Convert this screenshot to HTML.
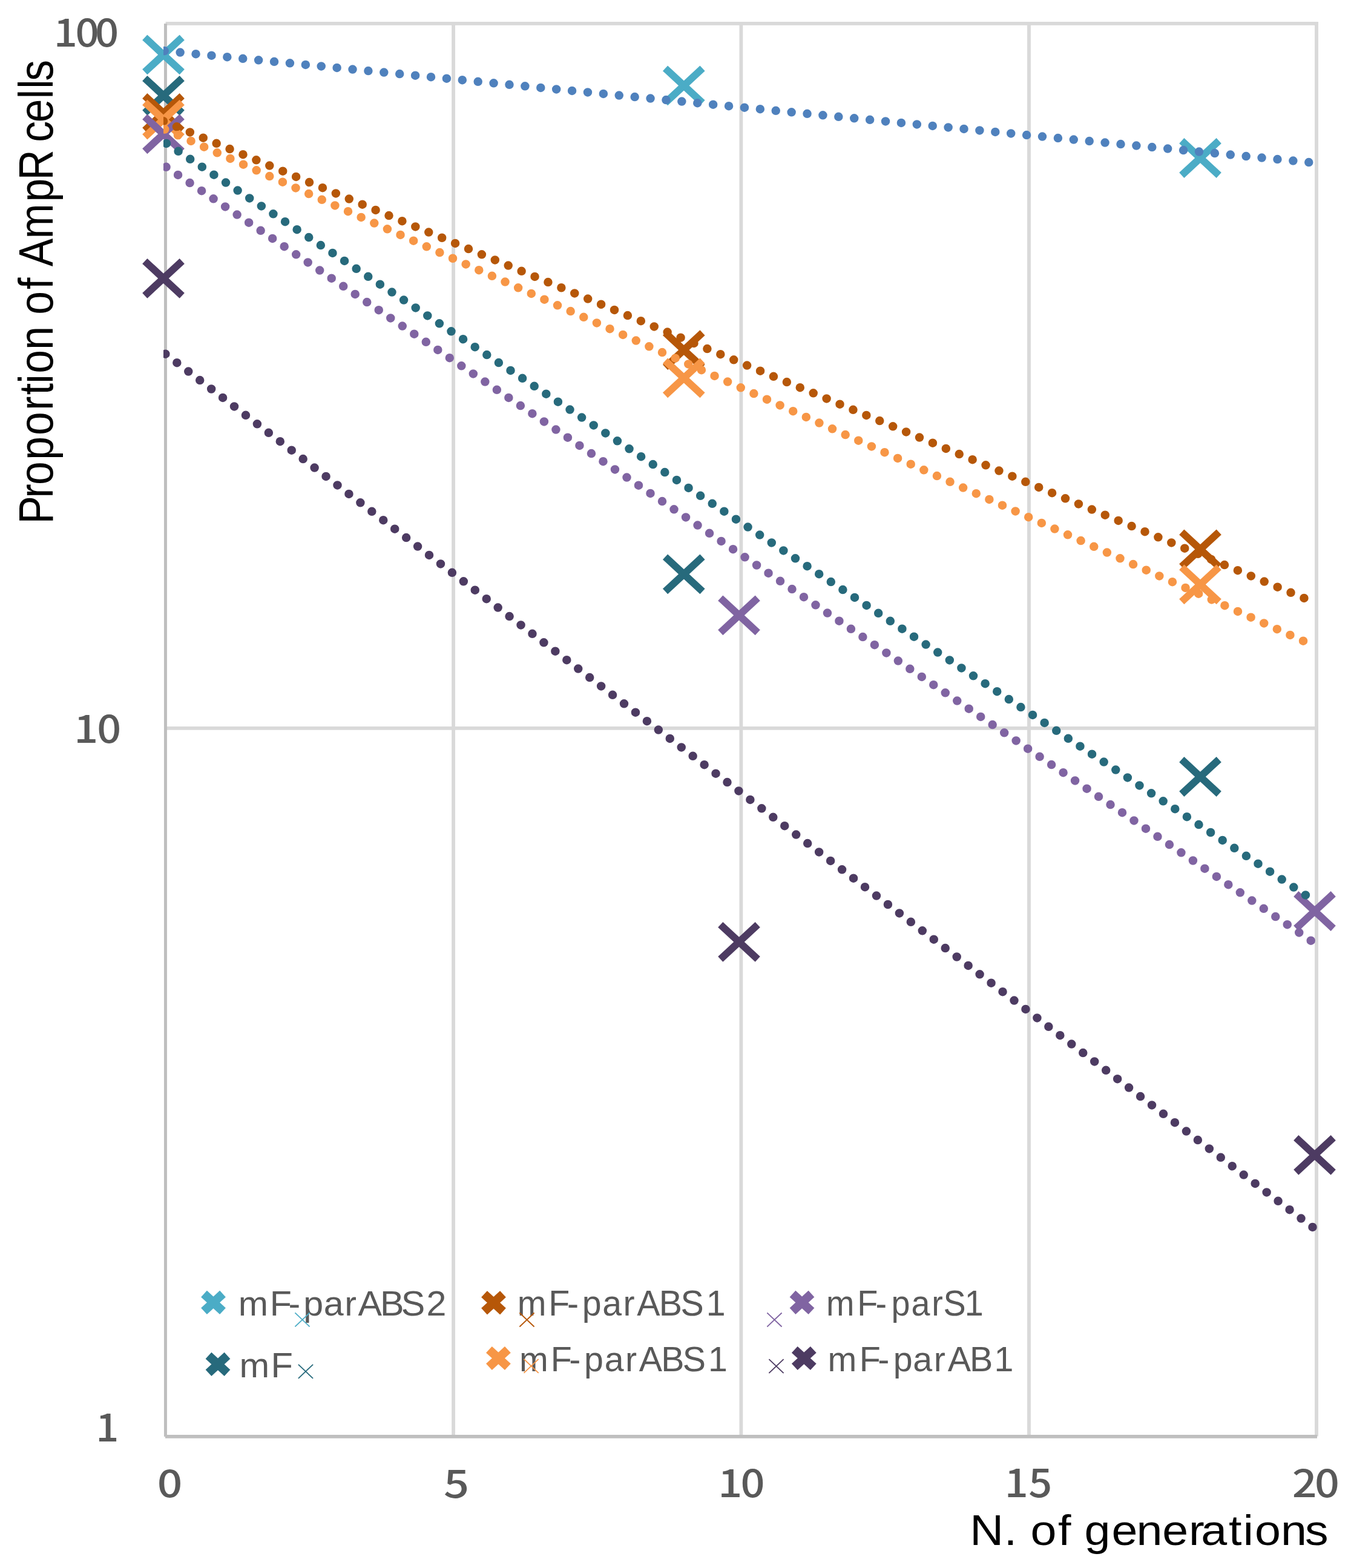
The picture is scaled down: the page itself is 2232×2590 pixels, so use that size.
<!DOCTYPE html><html><head><meta charset="utf-8"><title>Proportion of AmpR cells</title><style>html,body{margin:0;padding:0;background:#fff;}svg{display:block;}</style></head><body>
<svg width="2232" height="2590" viewBox="0 0 2232 2590">
<rect x="0" y="0" width="2232" height="2590" fill="#fff"/>
<defs><clipPath id="pc"><rect x="270" y="0" width="1962" height="2590"/></clipPath></defs>
<g stroke="#D9D9D9" stroke-width="5.8" fill="none"><line x1="749.1" y1="36.1" x2="749.1" y2="2372.5"/><line x1="1224.4" y1="36.1" x2="1224.4" y2="2372.5"/><line x1="1700.0" y1="36.1" x2="1700.0" y2="2372.5"/><line x1="2175.0" y1="36.1" x2="2175.0" y2="2372.5"/><line x1="273.5" y1="38.95" x2="2178" y2="38.95"/><line x1="273.5" y1="1202.85" x2="2178" y2="1202.85"/></g>
<line x1="273.45" y1="39" x2="273.45" y2="2373" stroke="#BFBFBF" stroke-width="5"/>
<line x1="273" y1="2372.85" x2="2176" y2="2372.85" stroke="#BFBFBF" stroke-width="5.7"/>
<path d="M239.25,61.90L300.75,118.90M300.75,61.90L239.25,118.90" stroke="#4BACC6" stroke-width="12" fill="none" stroke-linecap="butt"/>
<path d="M1099.05,112.80L1160.55,169.80M1160.55,112.80L1099.05,169.80" stroke="#4BACC6" stroke-width="12" fill="none" stroke-linecap="butt"/>
<path d="M1952.25,232.50L2013.75,289.50M2013.75,232.50L1952.25,289.50" stroke="#4BACC6" stroke-width="12" fill="none" stroke-linecap="butt"/>
<path d="M239.25,129.30L300.75,186.30M300.75,129.30L239.25,186.30" stroke="#276A7C" stroke-width="12" fill="none" stroke-linecap="butt"/>
<path d="M1099.05,919.90L1160.55,976.90M1160.55,919.90L1099.05,976.90" stroke="#276A7C" stroke-width="12" fill="none" stroke-linecap="butt"/>
<path d="M1952.25,1254.50L2013.75,1311.50M2013.75,1254.50L1952.25,1311.50" stroke="#276A7C" stroke-width="12" fill="none" stroke-linecap="butt"/>
<path d="M239.25,158.30L300.75,215.30M300.75,158.30L239.25,215.30" stroke="#B65708" stroke-width="12" fill="none" stroke-linecap="butt"/>
<path d="M1099.05,549.70L1160.55,606.70M1160.55,549.70L1099.05,606.70" stroke="#B65708" stroke-width="12" fill="none" stroke-linecap="butt"/>
<path d="M1952.25,878.90L2013.75,935.90M2013.75,878.90L1952.25,935.90" stroke="#B65708" stroke-width="12" fill="none" stroke-linecap="butt"/>
<path d="M239.25,169.10L300.75,226.10M300.75,169.10L239.25,226.10" stroke="#F79646" stroke-width="12" fill="none" stroke-linecap="butt"/>
<path d="M1099.05,595.80L1160.55,652.80M1160.55,595.80L1099.05,652.80" stroke="#F79646" stroke-width="12" fill="none" stroke-linecap="butt"/>
<path d="M1952.25,936.90L2013.75,993.90M2013.75,936.90L1952.25,993.90" stroke="#F79646" stroke-width="12" fill="none" stroke-linecap="butt"/>
<path d="M239.25,192.80L300.75,249.80M300.75,192.80L239.25,249.80" stroke="#8064A2" stroke-width="12" fill="none" stroke-linecap="butt"/>
<path d="M1190.25,987.80L1251.75,1044.80M1251.75,987.80L1190.25,1044.80" stroke="#8064A2" stroke-width="12" fill="none" stroke-linecap="butt"/>
<path d="M2141.25,1476.50L2202.75,1533.50M2202.75,1476.50L2141.25,1533.50" stroke="#8064A2" stroke-width="12" fill="none" stroke-linecap="butt"/>
<path d="M239.25,431.30L300.75,488.30M300.75,431.30L239.25,488.30" stroke="#4D3B62" stroke-width="12" fill="none" stroke-linecap="butt"/>
<path d="M1190.25,1527.40L1251.75,1584.40M1251.75,1527.40L1190.25,1584.40" stroke="#4D3B62" stroke-width="12" fill="none" stroke-linecap="butt"/>
<path d="M2141.25,1879.40L2202.75,1936.40M2202.75,1879.40L2141.25,1936.40" stroke="#4D3B62" stroke-width="12" fill="none" stroke-linecap="butt"/>
<g clip-path="url(#pc)"><path d="M270.0,83.88Q1221.0,177.21 2172.0,269.06" stroke="#4F81BD" stroke-width="14.5" stroke-linecap="round" stroke-dasharray="0 26.020" stroke-dashoffset="-1.75" fill="none"/><path d="M270.0,200.14Q1221.0,598.36 2172.0,995.30" stroke="#B65708" stroke-width="14.5" stroke-linecap="round" stroke-dasharray="0 23.750" stroke-dashoffset="-0.00" fill="none"/><path d="M270.0,212.56Q1221.0,638.28 2172.0,1067.18" stroke="#F79646" stroke-width="14.5" stroke-linecap="round" stroke-dasharray="0 23.700" stroke-dashoffset="-2.50" fill="none"/><path d="M270.0,233.63Q1221.0,860.91 2172.0,1488.43" stroke="#276A7C" stroke-width="14.5" stroke-linecap="round" stroke-dasharray="0 23.485" stroke-dashoffset="-6.00" fill="none"/><path d="M270.0,272.78Q1221.0,912.36 2172.0,1557.95" stroke="#8064A2" stroke-width="14.5" stroke-linecap="round" stroke-dasharray="0 23.530" stroke-dashoffset="-5.50" fill="none"/><path d="M270.0,582.10Q1221.0,1307.98 2172.0,2029.60" stroke="#4D3B62" stroke-width="14.5" stroke-linecap="round" stroke-dasharray="0 23.815" stroke-dashoffset="-4.25" fill="none"/></g>
<path d="M337.00,2137.10L368.00,2165.70M368.00,2137.10L337.00,2165.70" stroke="#4BACC6" stroke-width="14.4" fill="none" stroke-linecap="butt"/>
<text font-family="Liberation Sans" font-size="100" fill="#595959" transform="matrix(0.59225,0,0,0.58261,0,2173.00)" x="665.04 752.56 804.69 846.22 902.88 960.99 998.92 1060.57 1119.14 1189.56" y="0">mF-parABS2</text>
<path d="M487.40,2168.40L511.60,2191.40M511.60,2168.40L487.40,2191.40" stroke="#4BACC6" stroke-width="1.8" fill="none" stroke-linecap="butt"/>
<path d="M800.00,2137.50L831.00,2166.10M831.00,2137.50L800.00,2166.10" stroke="#B65708" stroke-width="14.4" fill="none" stroke-linecap="butt"/>
<text font-family="Liberation Sans" font-size="100" fill="#595959" transform="matrix(0.57331,0,0,0.58406,0,2173.20)" x="1490.73 1580.84 1634.18 1677.48 1736.05 1795.71 1835.37 1899.10 1961.21 2034.97" y="0">mF-parABS1</text>
<path d="M858.40,2168.50L882.60,2191.50M882.60,2168.50L858.40,2191.50" stroke="#B65708" stroke-width="1.8" fill="none" stroke-linecap="butt"/>
<path d="M1267.40,2168.50L1291.60,2191.50M1291.60,2168.50L1267.40,2191.50" stroke="#8064A2" stroke-width="1.8" fill="none" stroke-linecap="butt"/>
<path d="M1309.50,2137.10L1340.50,2165.70M1340.50,2137.10L1309.50,2165.70" stroke="#8064A2" stroke-width="14.4" fill="none" stroke-linecap="butt"/>
<text font-family="Liberation Sans" font-size="100" fill="#595959" transform="matrix(0.55765,0,0,0.58406,0,2173.30)" x="2447.98 2539.65 2593.96 2640.35 2699.60 2760.45 2794.62 2857.78" y="0">mF-parS1</text>
<path d="M344.50,2239.10L375.50,2267.70M375.50,2239.10L344.50,2267.70" stroke="#276A7C" stroke-width="14.4" fill="none" stroke-linecap="butt"/>
<text font-family="Liberation Sans" font-size="100" fill="#595959" transform="matrix(0.59616,0,0,0.57681,0,2274.90)" x="663.25 750.67" y="0">mF</text>
<path d="M492.90,2253.80L517.10,2276.80M517.10,2253.80L492.90,2276.80" stroke="#276A7C" stroke-width="1.8" fill="none" stroke-linecap="butt"/>
<path d="M807.90,2229.20L838.90,2257.80M838.90,2229.20L807.90,2257.80" stroke="#F79646" stroke-width="14.4" fill="none" stroke-linecap="butt"/>
<text font-family="Liberation Sans" font-size="100" fill="#595959" transform="matrix(0.57331,0,0,0.57536,0,2264.70)" x="1496.66 1586.77 1640.11 1683.41 1741.98 1801.65 1841.30 1905.03 1967.14 2040.90" y="0">mF-parABS1</text>
<path d="M865.50,2244.90L889.70,2267.90M889.70,2244.90L865.50,2267.90" stroke="#F79646" stroke-width="1.8" fill="none" stroke-linecap="butt"/>
<path d="M1270.40,2245.10L1294.60,2268.10M1294.60,2245.10L1270.40,2268.10" stroke="#4D3B62" stroke-width="1.8" fill="none" stroke-linecap="butt"/>
<path d="M1312.80,2229.20L1343.80,2257.80M1343.80,2229.20L1312.80,2257.80" stroke="#4D3B62" stroke-width="14.4" fill="none" stroke-linecap="butt"/>
<text font-family="Liberation Sans" font-size="100" fill="#595959" transform="matrix(0.57406,0,0,0.56957,0,2264.80)" x="2382.30 2473.00 2526.20 2570.74 2627.32 2687.53 2727.38 2790.49 2861.13" y="0">mF-parAB1</text>
<text font-family="Noto Sans CJK JP, Liberation Sans, sans-serif" font-size="100" font-weight="500" fill="#595959" transform="matrix(0.68710,0,0,0.62534,0,76.65)" x="129.07 181.37 228.67" y="0">100</text>
<text font-family="Noto Sans CJK JP, Liberation Sans, sans-serif" font-size="100" font-weight="500" fill="#595959" transform="matrix(0.70088,0,0,0.62877,0,1226.90)" x="174.39 228.82" y="0">10</text>
<text font-family="Noto Sans CJK JP, Liberation Sans, sans-serif" font-size="100" font-weight="500" fill="#595959" transform="matrix(0.66905,0,0,0.63776,0,2380.60)" x="236.48" y="0">1</text>
<text font-family="Noto Sans CJK JP, Liberation Sans, sans-serif" font-size="100" font-weight="500" fill="#595959" transform="matrix(0.72917,0,0,0.63014,0,2472.90)" x="356.19" y="0">0</text>
<text font-family="Noto Sans CJK JP, Liberation Sans, sans-serif" font-size="100" font-weight="500" fill="#595959" transform="matrix(0.74021,0,0,0.64615,0,2473.70)" x="990.37" y="0">5</text>
<text font-family="Noto Sans CJK JP, Liberation Sans, sans-serif" font-size="100" font-weight="500" fill="#595959" transform="matrix(0.70324,0,0,0.62877,0,2472.80)" x="1686.83 1739.66" y="0">10</text>
<text font-family="Noto Sans CJK JP, Liberation Sans, sans-serif" font-size="100" font-weight="500" fill="#595959" transform="matrix(0.68528,0,0,0.64056,0,2472.70)" x="2421.97 2479.74" y="0">15</text>
<text font-family="Noto Sans CJK JP, Liberation Sans, sans-serif" font-size="100" font-weight="500" fill="#595959" transform="matrix(0.71771,0,0,0.62740,0,2472.70)" x="2974.54 3026.36" y="0">20</text>
<text font-family="Liberation Sans" font-size="100" fill="#000" transform="matrix(0.77232,0,0,0.70580,0,2551.80)" x="2074.59 2147.66 2175.44 2204.55 2263.26 2291.04 2319.81 2377.79 2431.14 2486.49 2543.08 2569.18 2628.44 2659.26 2684.01 2739.69 2791.70" y="0">N. of generations</text>
<text font-family="Liberation Sans" font-size="100" fill="#000" transform="translate(87.10,0) rotate(-90) scale(0.69537,0.79855)" x="-1244.82 -1182.77 -1152.04 -1092.61 -1034.05 -974.68 -938.15 -911.24 -887.08 -830.92 -775.30 -747.37 -687.56 -659.77 -633.04 -566.98 -479.55 -427.80 -355.58 -337.56 -290.85 -234.69 -210.89 -192.21" y="0">Proportion of AmpR cells</text>
</svg></body></html>
